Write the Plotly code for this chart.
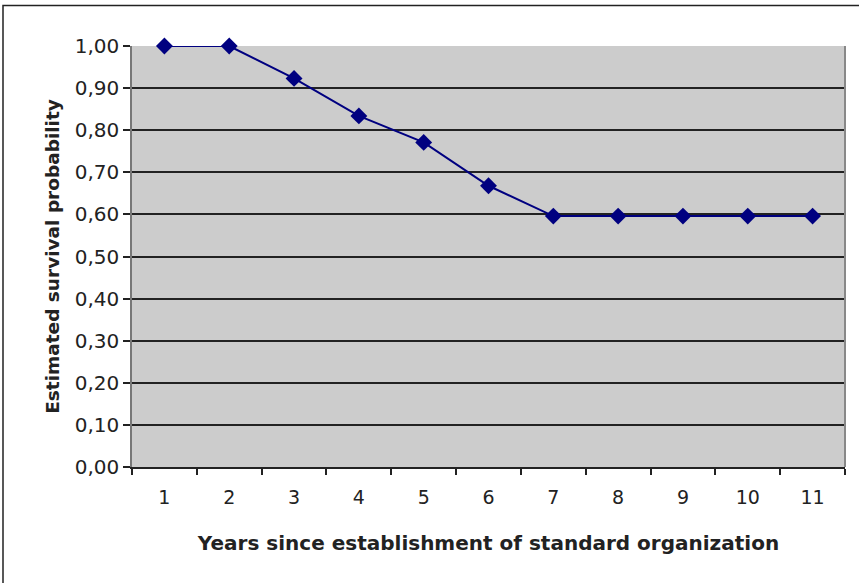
import plotly.graph_objects as go

years = ["1", "2", "3", "4", "5", "6", "7", "8", "9", "10", "11"]
survival = [1.00, 1.00, 0.923, 0.834, 0.771, 0.668, 0.596, 0.596, 0.596, 0.596, 0.596]
y_ticks = [0.0, 0.1, 0.2, 0.3, 0.4, 0.5, 0.6, 0.7, 0.8, 0.9, 1.0]

W, H = 859, 583
L, R, T, B = 132, 14, 46, 116
pw, ph = W - L - R, H - T - B

def px_x(p):
    return (p - L) / pw

def px_y(p):
    return (H - B - p) / ph

FONT = "DejaVu Sans, Liberation Sans, Arial, sans-serif"

fig = go.Figure()
fig.add_trace(go.Scatter(
    x=years, y=survival, mode="lines+markers",
    line=dict(color="#000080", width=2),
    marker=dict(symbol="diamond", size=13, color="#000080"),
    showlegend=False, cliponaxis=False,
))

fig.update_layout(
    width=W, height=H,
    margin=dict(l=L, r=R, t=T, b=B),
    paper_bgcolor="white", plot_bgcolor="#CCCCCC",
    separators=",.",
    font=dict(family=FONT, color="#222222"),
    xaxis=dict(
        type="category", tickson="boundaries", ticks="outside", ticklen=6,
        tickcolor="#222222", tickwidth=1.5, showgrid=False,
        showline=True, linecolor="#222222", linewidth=1.5,
        tickfont=dict(size=19), ticklabelstandoff=12,
        title=dict(text="<b>Years since establishment of standard organization</b>",
                   font=dict(size=20, color="#222222"), standoff=29),
        range=[-0.5, 10.5],
    ),
    yaxis=dict(
        range=[0, 1], tickvals=y_ticks, tickformat=".2f",
        ticks="outside", ticklen=7, tickcolor="#222222", tickwidth=1.5,
        showgrid=True, gridcolor="#222222", gridwidth=1.5,
        showline=True, linecolor="#777777", linewidth=1.5,
        zeroline=False,
        tickfont=dict(size=20),
        title=dict(text="<b>Estimated survival probability</b>",
                   font=dict(size=18.5, color="#222222"), standoff=10),
    ),
    shapes=[
        dict(type="line", xref="paper", yref="paper", x0=1, x1=1, y0=0, y1=1,
             line=dict(color="#888888", width=2)),
        dict(type="rect", xref="paper", yref="paper",
             x0=px_x(3), x1=px_x(875), y0=px_y(598), y1=px_y(5.5),
             line=dict(color="#222222", width=1.5)),
    ],
)

fig.write_html("out.html", config={"displayModeBar": False},
               post_script="document.body.style.margin='0';")
